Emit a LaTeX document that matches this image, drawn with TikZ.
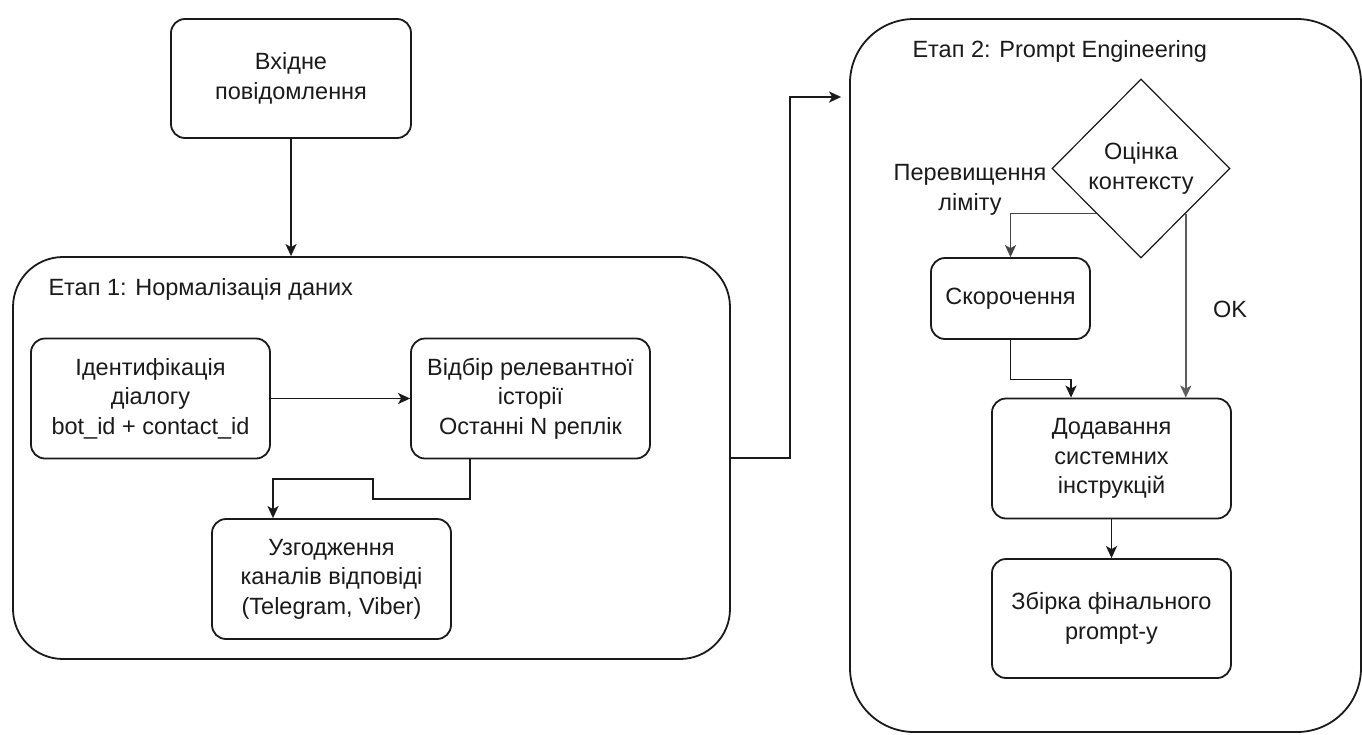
\documentclass[tikz,border=0pt]{standalone}
\usepackage{fontspec}
\setmainfont{Liberation Sans}
\usetikzlibrary{arrows.meta,shapes.geometric}

\definecolor{ink}{HTML}{1A1A1A}
\definecolor{okline}{HTML}{5E5E5E}
\definecolor{limline}{HTML}{444444}

\tikzset{
  every node/.style={text=ink, font=\fontsize{23.5}{29.5}\selectfont},
  stepbox/.style={draw=ink, line width=1.8pt, rounded corners=14pt,
    minimum width=239pt, minimum height=120pt, align=center, inner sep=2pt},
  stage/.style={draw=ink, line width=1.8pt, inner sep=0pt},
  decide/.style={draw=ink, line width=1.2pt, diamond, inner sep=0pt,
    minimum width=178pt, minimum height=179pt, align=center},
  arr/.style={draw=ink, line width=1.8pt,
    -{Stealth[length=12pt,width=11pt,inset=3pt]}},
  caption/.style={align=center}
}

\begin{document}
\begin{tikzpicture}[x=1pt,y=-1pt]
\useasboundingbox (0,0) rectangle (1362,734);

% incoming message
\node[stepbox, minimum width=240pt, minimum height=119pt] (in) at (291,78.5)
  {Вхідне\\повідомлення};

% stage 1 container
\node[stage, rounded corners=50pt, minimum width=717pt, minimum height=402pt]
  (st1) at (371.5,458) {};
\node[anchor=base west] (t1) at (45,295) {Етап 1: Нормалізація даних};

\node[stepbox] (b1) at (150.5,398.5) {Ідентифікація\\діалогу\\bot\_id + contact\_id};
\node[stepbox] (b2) at (530.5,398.5) {Відбір релевантної\\історії\\Останні N реплік};
\node[stepbox] (b3) at (331.5,579) {Узгодження\\каналів відповіді\\(Telegram, Viber)};

% stage 2 container
\node[stage, rounded corners=64pt, minimum width=511pt, minimum height=713pt]
  (st2) at (1105.5,375.5) {};
\node[anchor=base west] (t2) at (909,57) {Етап 2: Prompt Engineering};

\node[decide] (d) at (1141,168.5) {Оцінка\\контексту};
\node[caption] (lim) at (970,190) {Перевищення\\ліміту};
\node[stepbox, minimum width=159pt, minimum height=81pt] (sk) at (1010.5,298.5) {Скорочення};
\node[stepbox] (dd) at (1111.5,458.5) {Додавання\\системних\\інструкцій};
\node[stepbox, minimum height=119pt] (fz) at (1111.5,618.5) {Збірка фінального\\prompt-у};
\node (ok) at (1230,309) {OK};

% connectors
\draw[arr] (in.south) -- (in.south |- st1.north);
\draw[arr] (b1.east) -- (b2.west);
\draw[arr] ([xshift=-60.5pt]b2.south) |- (373,499) |- (273,479)
  -- ([xshift=-58.5pt]b3.north);

\coordinate (j) at (790,97);
\draw[arr, shorten >=8pt] (st1.east) -| (j) -- (j -| st2.west);

\draw[arr, draw=limline] (d.south west) -| (sk.north);
\draw[arr, draw=okline] (d.south east) -- (d.south east |- dd.north);
\draw[arr] (sk.south) -- ++(0,39.5) -| ([xshift=-40.5pt]dd.north);
\draw[arr] (dd.south) -- (fz.north);
\end{tikzpicture}
\end{document}
